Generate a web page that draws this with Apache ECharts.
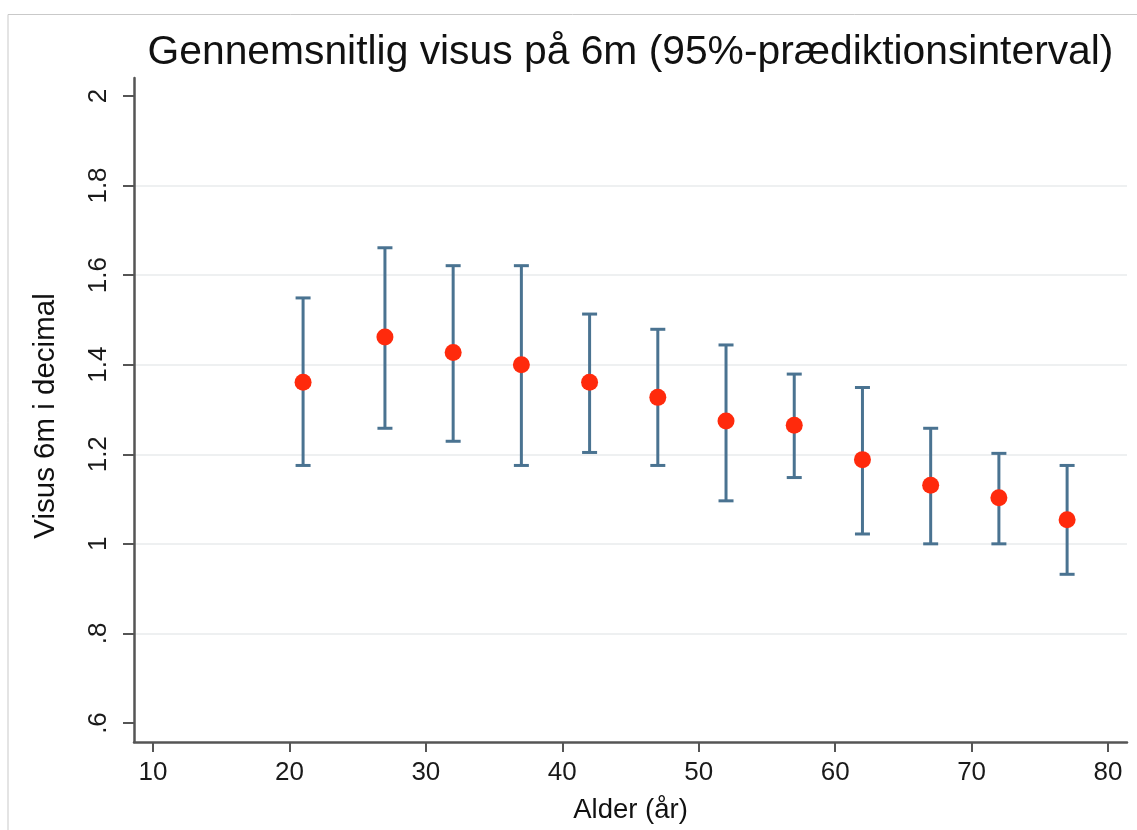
<!DOCTYPE html>
<html>
<head>
<meta charset="utf-8">
<script src="https://cdn.jsdelivr.net/npm/echarts@6/dist/echarts.min.js"></script>
<style>html,body{margin:0;padding:0;background:#fff;}#c{width:1137px;height:830px;}</style>
</head>
<body>
<div id="c"></div>
<script>
const ages = [21, 27, 32, 37, 42, 47, 52, 57, 62, 67, 72, 77];
const means = [1.361, 1.462, 1.427, 1.400, 1.361, 1.327, 1.274, 1.265, 1.188, 1.131, 1.103, 1.054];
const upper = [1.549, 1.661, 1.621, 1.621, 1.513, 1.479, 1.444, 1.379, 1.349, 1.258, 1.202, 1.175];
const lower = [1.175, 1.258, 1.229, 1.175, 1.204, 1.175, 1.096, 1.148, 1.022, 1.000, 1.000, 0.932];
const xTicks = [10, 20, 30, 40, 50, 60, 70, 80];
const yTicks = [0.6, 0.8, 1, 1.2, 1.4, 1.6, 1.8, 2];
const gridLines = [0.8, 1, 1.2, 1.4, 1.6, 1.8];

const FONT = '"Liberation Sans", Arial, Helvetica, sans-serif';
const chart = echarts.init(document.getElementById('c'), null, {renderer: 'canvas'});

const errData = ages.map((a, i) => [a, lower[i], upper[i]]);
const ptData = ages.map((a, i) => [a, means[i]]);

chart.setOption({
  backgroundColor: '#ffffff',
  animation: false,
  title: {
    text: 'Gennemsnitlig visus på 6m (95%-prædiktionsinterval)',
    left: 625.5, top: 27, textAlign: 'center',
    textStyle: {fontFamily: FONT, fontSize: 40.8, fontWeight: 'normal', color: '#111'}
  },
  graphic: [{
    type: 'polyline', silent: true,
    shape: {points: [[8, 830], [8, 14.5], [1137, 14.5]]},
    style: {stroke: '#c9c9c9', lineWidth: 1, fill: null}
  }],
  grid: {left: 134, right: 10, top: 78, bottom: 88, containLabel: false},
  xAxis: {
    type: 'value', min: 8.607, max: 81.39,
    name: 'Alder (år)', nameLocation: 'middle', nameGap: 54,
    nameTextStyle: {fontFamily: FONT, fontSize: 27.5, color: '#111'},
    axisLine: {show: true, onZero: false, lineStyle: {color: '#555', width: 2.5}},
    axisTick: {show: true, length: 10, customValues: xTicks, lineStyle: {color: '#555', width: 2}},
    axisLabel: {customValues: xTicks, margin: 18, fontFamily: FONT, fontSize: 26, color: '#1a1a1a'},
    splitLine: {show: false}
  },
  yAxis: {
    type: 'value', min: 0.5576, max: 2.040,
    name: 'Visus 6m i decimal', nameLocation: 'middle', nameGap: 73, nameRotate: 90,
    nameTextStyle: {fontFamily: FONT, fontSize: 29.5, color: '#111', padding: [0, 12, 0, 0]},
    axisLine: {show: true, onZero: false, lineStyle: {color: '#555', width: 2.5}},
    axisTick: {show: true, length: 11, customValues: yTicks, lineStyle: {color: '#555', width: 2}},
    axisLabel: {
      customValues: yTicks, rotate: 90, margin: 22,
      fontFamily: FONT, fontSize: 26, color: '#1a1a1a',
      formatter: v => String(+v.toFixed(2)).replace(/^0\./, '.')
    },
    splitLine: {show: false}
  },
  series: [
    {
      type: 'line', data: [], silent: true, z: 0,
      markLine: {
        silent: true, symbol: 'none', label: {show: false}, z: 0,
        lineStyle: {color: '#eef0f1', width: 2, type: 'solid'},
        data: gridLines.map(v => ({yAxis: v}))
      }
    },
    {
      type: 'custom', data: errData, silent: true, z: 3,
      renderItem: function (params, api) {
        const x = api.value(0);
        const lo = api.coord([x, api.value(1)]);
        const hi = api.coord([x, api.value(2)]);
        const hw = 7.5;
        const st = {stroke: '#4a7391', lineWidth: 3};
        return {
          type: 'group',
          children: [
            {type: 'line', shape: {x1: lo[0], y1: lo[1], x2: hi[0], y2: hi[1]}, style: st},
            {type: 'line', shape: {x1: lo[0] - hw, y1: lo[1], x2: lo[0] + hw, y2: lo[1]}, style: st},
            {type: 'line', shape: {x1: hi[0] - hw, y1: hi[1], x2: hi[0] + hw, y2: hi[1]}, style: st}
          ]
        };
      }
    },
    {
      type: 'scatter', data: ptData, symbol: 'circle', symbolSize: 17, z: 4,
      itemStyle: {color: '#ff2a0c', opacity: 1}
    }
  ]
});
</script>
</body>
</html>
